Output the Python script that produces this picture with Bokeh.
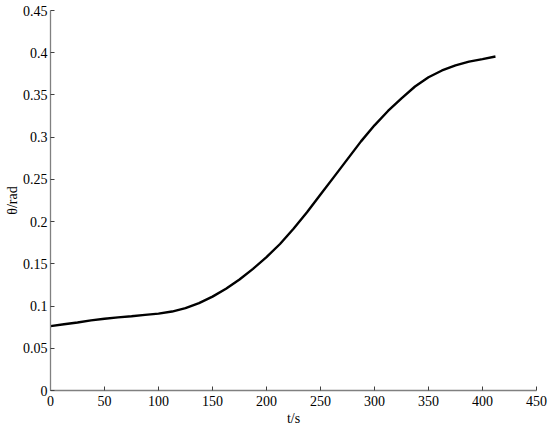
from bokeh.plotting import figure
from bokeh.models import Range1d, FixedTicker
from bokeh.embed import file_html
from bokeh.resources import INLINE

t_s = [0, 12.5, 25, 37.5, 50, 62.5, 75, 87.5, 100, 112.5, 125, 137.5, 150, 162.5, 175, 187.5,
       200, 212.5, 225, 237.5, 250, 262.5, 275, 287.5, 300, 312.5, 325, 337.5, 350, 362.5,
       375, 387.5, 400, 412]
theta_rad = [0.0763, 0.0785, 0.0805, 0.0830, 0.0850, 0.0866, 0.0880, 0.0895, 0.0910, 0.0935,
             0.0975, 0.1035, 0.1112, 0.1205, 0.1315, 0.1440, 0.1580, 0.1735, 0.1915, 0.2110,
             0.2320, 0.2530, 0.2740, 0.2950, 0.3140, 0.3310, 0.3460, 0.3600, 0.3710, 0.3790,
             0.3850, 0.3895, 0.3925, 0.3955]
x_ticks = [0, 50, 100, 150, 200, 250, 300, 350, 400, 450]
y_ticks = [0, 0.05, 0.1, 0.15, 0.2, 0.25, 0.3, 0.35, 0.4, 0.45]
y_tick_labels = ["0", "0.05", "0.1", "0.15", "0.2", "0.25", "0.3", "0.35", "0.4", "0.45"]

FONT = "Liberation Serif"

p = figure(width=550, height=428, output_backend="svg", toolbar_location=None,
           x_range=Range1d(0, 450), y_range=Range1d(0, 0.45),
           min_border_left=50, min_border_right=14, min_border_top=10, min_border_bottom=35)
p.outline_line_color = None
p.grid.visible = False
p.background_fill_color = "white"
p.border_fill_color = "white"

p.line(t_s, theta_rad, line_color="black", line_width=2.4)

p.xaxis.ticker = FixedTicker(ticks=x_ticks)
p.yaxis.ticker = FixedTicker(ticks=y_ticks)
p.yaxis.major_label_overrides = {v: s for v, s in zip(y_ticks, y_tick_labels)}
p.xaxis.axis_label = "t/s"
p.yaxis.axis_label = "θ/rad"

for ax in (p.xaxis, p.yaxis):
    ax.axis_line_color = "#808080"
    ax.axis_line_width = 1.3
    ax.major_tick_line_color = "#404040"
    ax.major_tick_in = 4
    ax.major_tick_out = 0
    ax.minor_tick_line_color = None
    ax.major_label_text_font = FONT
    ax.major_label_text_font_size = "14px"
    ax.major_label_text_color = "black"
    ax.axis_label_text_font = FONT
    ax.axis_label_text_font_size = "14px"
    ax.axis_label_text_font_style = "normal"
    ax.axis_label_text_color = "black"
p.xaxis.major_label_standoff = 5
p.yaxis.major_label_standoff = 3
p.xaxis.axis_label_standoff = 2
p.yaxis.axis_label_standoff = 0

open("out.html", "w").write(file_html(p, INLINE))
